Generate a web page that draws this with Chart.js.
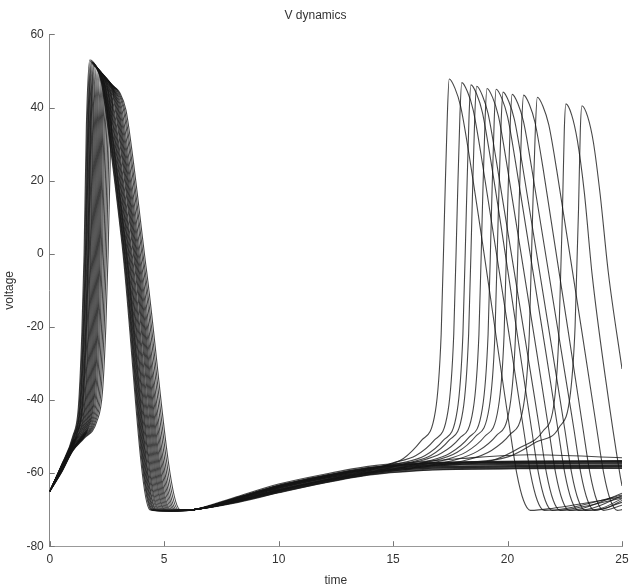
<!DOCTYPE html>
<html>
<head>
<meta charset="utf-8">
<script src="https://cdn.jsdelivr.net/npm/chart.js@4.4.0/dist/chart.umd.min.js"></script>
<style>
  html, body { margin: 0; padding: 0; background: #fff; overflow: hidden; }
  #wrap { width: 629px; height: 588px; position: relative; }
  #vplot { display: block; }
</style>
</head>
<body>
<div id="wrap"><canvas id="vplot"></canvas></div>
<script>
// tick labels
const xTicks = [0, 5, 10, 15, 20, 25];
const yTicks = [-80, -60, -40, -20, 0, 20, 40, 60];

// runs that fire only the first spike, [time, voltage]
const quietRuns = [
  [[0,-65],[0.5,-58.0],[1.00,-50.0],[1.25,-42.0],[1.40,-22.0],[1.50,0],[1.60,35.0],[1.75,53.0],[2.00,51.5],[2.25,47.0],[2.55,34.0],[3.15,3.0],[4.37,-70],[4.67,-70.3],[6.3,-70],[8,-67.1],[10,-63.5],[12,-60.8],[14,-58.6],[16,-57.5],[18,-57.1],[21,-56.9],[25,-56.8]],
  [[0,-65],[0.5,-58.1],[1.06,-49.8],[1.31,-41.8],[1.46,-22.0],[1.56,0],[1.66,34.4],[1.81,52.4],[2.06,50.9],[2.31,46.4],[2.61,33.4],[3.21,2.4],[4.45,-70],[4.75,-70.3],[6.3,-70],[8,-68.0],[10,-64.9],[12,-62.2],[14,-60.0],[16,-58.9],[18,-58.5],[21,-58.3],[25,-58.2]],
  [[0,-65],[0.5,-58.2],[1.08,-49.7],[1.33,-41.7],[1.48,-21.9],[1.58,0],[1.68,34.2],[1.83,52.2],[2.08,50.7],[2.33,46.2],[2.63,33.2],[3.23,2.2],[4.48,-70],[4.78,-70.3],[6.3,-70],[8,-67.4],[10,-64.0],[12,-61.3],[14,-59.1],[16,-58.0],[18,-57.6],[21,-57.4],[25,-57.3]],
  [[0,-65],[0.5,-58.3],[1.13,-49.5],[1.38,-41.5],[1.53,-21.8],[1.63,0],[1.73,33.8],[1.88,51.8],[2.13,50.3],[2.38,45.8],[2.68,32.8],[3.28,1.8],[4.55,-70],[4.85,-70.3],[6.3,-70],[8,-68.2],[10,-65.3],[12,-62.6],[14,-60.4],[16,-59.3],[18,-58.9],[21,-58.7],[25,-58.6]],
  [[0,-65],[0.5,-58.4],[1.18,-49.3],[1.43,-41.3],[1.58,-21.7],[1.68,0],[1.78,33.4],[1.93,51.4],[2.18,49.9],[2.43,45.4],[2.73,32.4],[3.33,1.4],[4.62,-70],[4.92,-70.3],[6.3,-70],[8,-67.2],[10,-63.7],[12,-61.0],[14,-58.8],[16,-57.7],[18,-57.3],[21,-57.1],[25,-57.0]],
  [[0,-65],[0.5,-58.5],[1.23,-49.1],[1.48,-41.1],[1.63,-21.7],[1.73,0],[1.83,33.0],[1.98,51.0],[2.23,49.5],[2.48,45.0],[2.78,32.0],[3.38,1.0],[4.70,-70],[5.00,-70.3],[6.3,-70],[8,-67.8],[10,-64.6],[12,-61.9],[14,-59.7],[16,-58.6],[18,-58.2],[21,-58.0],[25,-57.9]],
  [[0,-65],[0.5,-58.5],[1.0,-51.4],[1.27,-49.0],[1.52,-41.0],[1.67,-21.6],[1.77,0],[1.87,32.8],[2.02,50.8],[2.27,49.3],[2.52,44.8],[2.82,31.8],[3.42,0.8],[4.74,-70],[5.04,-70.3],[6.3,-70],[8,-67.0],[10,-63.3],[12,-60.6],[14,-58.4],[16,-57.3],[18,-56.9],[21,-56.7],[25,-56.6]],
  [[0,-65],[0.5,-58.6],[1.0,-51.8],[1.34,-48.7],[1.59,-40.7],[1.74,-21.5],[1.84,0],[1.94,32.2],[2.09,50.2],[2.34,48.7],[2.59,44.2],[2.89,31.2],[3.49,0.2],[4.83,-70],[5.13,-70.3],[6.3,-70],[8,-68.1],[10,-65.1],[12,-62.4],[14,-60.2],[16,-59.1],[18,-58.7],[21,-58.5],[25,-58.4]],
  [[0,-65],[0.5,-58.8],[1.0,-52.2],[1.42,-48.4],[1.67,-40.4],[1.82,-21.4],[1.92,0],[2.02,31.6],[2.17,49.6],[2.42,48.1],[2.67,43.6],[2.97,30.6],[3.57,-0.4],[4.93,-70],[5.23,-70.3],[6.3,-70],[8,-67.5],[10,-64.2],[12,-61.5],[14,-59.3],[16,-58.2],[18,-57.8],[21,-57.6],[25,-57.5]],
  [[0,-65],[0.5,-58.8],[1.0,-52.4],[1.46,-48.3],[1.71,-40.3],[1.86,-21.4],[1.96,0],[2.06,31.4],[2.21,49.4],[2.46,47.9],[2.71,43.4],[3.01,30.4],[3.61,-0.6],[4.98,-70],[5.28,-70.3],[6.3,-70],[8,-67.1],[10,-63.4],[12,-60.7],[14,-58.5],[16,-57.4],[18,-57.0],[21,-56.8],[25,-56.7]],
  [[0,-65],[0.5,-59.0],[1.0,-52.7],[1.54,-47.9],[1.79,-39.9],[1.94,-21.2],[2.04,0],[2.14,30.7],[2.31,48.7],[2.56,47.2],[2.81,42.7],[3.11,29.7],[3.71,-1.3],[5.07,-70],[5.37,-70.3],[6.3,-70],[8,-67.9],[10,-64.8],[12,-62.1],[14,-59.9],[16,-58.8],[18,-58.4],[21,-58.2],[25,-58.1]],
  [[0,-65],[0.5,-59.2],[1.0,-53.1],[1.62,-47.6],[1.87,-39.6],[2.02,-21.1],[2.12,0],[2.22,30.1],[2.39,48.1],[2.64,46.6],[2.89,42.1],[3.19,29.1],[3.79,-1.9],[5.17,-70],[5.47,-70.3],[6.3,-70],[8,-67.4],[10,-63.9],[12,-61.2],[14,-59.0],[16,-57.9],[18,-57.5],[21,-57.3],[25,-57.2]],
  [[0,-65],[0.5,-59.4],[1.0,-53.4],[1.70,-47.3],[1.95,-39.3],[2.10,-21.0],[2.20,0],[2.30,29.5],[2.47,47.5],[2.72,46.0],[2.97,41.5],[3.27,28.5],[3.87,-2.5],[5.27,-70],[5.57,-70.3],[6.3,-70],[8,-68.3],[10,-65.4],[12,-62.7],[14,-60.5],[16,-59.4],[18,-59.0],[21,-58.8],[25,-58.7]],
  [[0,-65],[0.5,-59.5],[1.0,-53.5],[1.5,-49.2],[1.75,-47.1],[2.00,-39.1],[2.15,-20.9],[2.25,0],[2.35,29.1],[2.52,47.1],[2.77,45.6],[3.02,41.1],[3.32,28.1],[3.92,-2.9],[5.33,-70],[5.63,-70.3],[6.3,-70],[8,-67.2],[10,-63.6],[12,-60.9],[14,-58.7],[16,-57.6],[18,-57.2],[21,-57.0],[25,-56.9]],
  [[0,-65],[0.5,-59.7],[1.0,-53.7],[1.5,-49.8],[1.86,-46.7],[2.11,-38.7],[2.26,-20.6],[2.36,0],[2.46,28.4],[2.63,46.4],[2.88,44.9],[3.13,40.4],[3.43,27.4],[4.03,-3.6],[5.45,-70],[5.75,-70.3],[6.3,-70],[8,-67.7],[10,-64.5],[12,-61.8],[14,-59.6],[16,-58.5],[18,-58.1],[21,-57.9],[25,-57.8]],
  [[0,-65],[0.5,-59.9],[1.0,-53.9],[1.5,-50.3],[1.98,-46.3],[2.23,-38.3],[2.38,-20.2],[2.48,0],[2.58,27.7],[2.76,45.7],[3.01,44.2],[3.26,39.7],[3.56,26.7],[4.16,-4.3],[5.60,-70],[5.90,-70.3],[6.3,-70],[8,-66.8],[10,-63.0],[12,-60.3],[14,-58.1],[16,-57.0],[18,-56.0],[21,-55.0],[25,-55.8]]
];

// runs that fire a second spike late in the window
const spikingRuns = [
  [[0,-65],[0.5,-58.1],[1.03,-49.9],[1.28,-41.9],[1.43,-22.0],[1.53,0],[1.63,34.6],[1.78,52.6],[2.03,51.1],[2.28,46.6],[2.58,33.6],[3.18,2.6],[4.42,-70],[4.72,-70.3],[6.3,-70],[8,-67.3],[10,-63.8],[12,-61.1],[14,-58.9],
   [14.45,-58.3],[15.45,-56.0],[16.25,-51.0],[16.85,-43],[17.1,-22],[17.25,12],[17.37,38],[17.45,47.8],[17.7,45.3],[17.95,40.3],[18.3,27.8],[20.1,-48],[20.4,-60],[20.7,-67.5],[21.0,-70.2],[22.0,-69.6],[25,-66.5]],
  [[0,-65],[0.5,-58.3],[1.16,-49.4],[1.41,-41.4],[1.56,-21.8],[1.66,0],[1.76,33.5],[1.91,51.5],[2.16,50.0],[2.41,45.5],[2.71,32.5],[3.31,1.5],[4.58,-70],[4.88,-70.3],[6.3,-70],[8,-67.5],[10,-64.1],[12,-61.4],[14,-59.2],
   [15.0,-57.2],[16.0,-55.2],[16.8,-51],[17.4,-43],[17.65,-22],[17.8,12],[17.92,38],[18.0,46.8],[18.25,44.3],[18.5,39.3],[18.85,26.8],[20.7,-48],[21.0,-60],[21.3,-67.5],[21.6,-70.2],[22.6,-69.6],[25,-66.0]],
  [[0,-65],[0.5,-58.6],[1.0,-51.6],[1.30,-48.9],[1.55,-40.9],[1.70,-21.6],[1.80,0],[1.90,32.6],[2.05,50.6],[2.30,49.1],[2.55,44.6],[2.85,31.6],[3.45,0.6],[4.78,-70],[5.08,-70.3],[6.3,-70],[8,-67.1],[10,-63.5],[12,-60.8],[14,-58.6],
   [15.4,-57.2],[16.4,-55.2],[17.2,-51],[17.8,-43],[18.05,-22],[18.2,12],[18.32,38],[18.4,46.2],[18.65,43.7],[18.9,38.7],[19.25,26.2],[21.05,-48],[21.35,-60],[21.65,-67.5],[21.95,-70.2],[22.95,-69.6],[25,-66.8]],
  [[0,-65],[0.5,-58.2],[1.10,-49.6],[1.35,-41.6],[1.50,-21.9],[1.60,0],[1.70,34.0],[1.85,52.0],[2.10,50.5],[2.35,46.0],[2.65,33.0],[3.25,2.0],[4.52,-70],[4.82,-70.3],[6.3,-70],[8,-67.8],[10,-64.7],[12,-62.0],[14,-59.8],
   [15.65,-57.2],[16.65,-55.2],[17.45,-51],[18.05,-43],[18.3,-22],[18.45,12],[18.57,38],[18.65,45.8],[18.9,43.3],[19.15,38.3],[19.5,25.8],[21.4,-48],[21.7,-60],[22.0,-67.5],[22.3,-70.2],[23.3,-69.6],[25,-65.5]],
  [[0,-65],[0.5,-58.9],[1.0,-52.5],[1.50,-48.1],[1.75,-40.1],[1.90,-21.3],[2.00,0],[2.10,31.0],[2.27,49.0],[2.52,47.5],[2.77,43.0],[3.07,30.0],[3.67,-1.0],[5.02,-70],[5.32,-70.3],[6.3,-70],[8,-67.4],[10,-63.9],[12,-61.2],[14,-59.0],
   [16.1,-56.8],[17.1,-54.6],[17.9,-50.5],[18.5,-42.5],[18.75,-22],[18.9,12],[19.02,37],[19.1,45.2],[19.35,42.7],[19.6,37.7],[19.95,25.2],[21.8,-48],[22.1,-60],[22.4,-67.5],[22.7,-70.2],[23.7,-69.6],[25,-66.2]],
  [[0,-65],[0.5,-58.4],[1.20,-49.2],[1.45,-41.2],[1.60,-21.7],[1.70,0],[1.80,33.2],[1.95,51.2],[2.20,49.7],[2.45,45.2],[2.75,32.2],[3.35,1.2],[4.65,-70],[4.95,-70.3],[6.3,-70],[8,-68.0],[10,-65.0],[12,-62.3],[14,-60.1],
   [16.5,-56.8],[17.5,-54.5],[18.3,-50.3],[18.9,-42.3],[19.15,-22],[19.3,12],[19.42,37],[19.5,45.0],[19.75,42.5],[20.0,37.5],[20.35,25.0],[22.2,-48],[22.5,-60],[22.8,-67.5],[23.1,-70.2],[24.1,-69.6],[25,-67.0]],
  [[0,-65],[0.5,-59.3],[1.0,-53.3],[1.66,-47.5],[1.91,-39.5],[2.06,-21.1],[2.16,0],[2.26,29.8],[2.43,47.8],[2.68,46.3],[2.93,41.8],[3.23,28.8],[3.83,-2.2],[5.22,-70],[5.52,-70.3],[6.3,-70],[8,-67.2],[10,-63.7],[12,-61.0],[14,-58.8],
   [16.8,-56.6],[17.8,-54.3],[18.6,-50],[19.2,-42],[19.45,-22],[19.6,12],[19.72,36],[19.8,44.2],[20.05,41.7],[20.3,36.7],[20.65,24.2],[22.5,-48],[22.8,-60],[23.1,-67.5],[23.4,-70.2],[24.3,-69.6],[25,-67.5]],
  [[0,-65],[0.5,-58.7],[1.0,-52.0],[1.38,-48.6],[1.63,-40.6],[1.78,-21.5],[1.88,0],[1.98,32.0],[2.13,50.0],[2.38,48.5],[2.63,44.0],[2.93,31.0],[3.53,0],[4.88,-70],[5.18,-70.3],[6.3,-70],[8,-67.7],[10,-64.4],[12,-61.7],[14,-59.5],
   [16,-58.0],[17.2,-56.5],[18.2,-54.2],[19.0,-50],[19.6,-42],[19.85,-22],[20.0,12],[20.12,36],[20.2,43.6],[20.45,41.1],[20.7,36.1],[21.05,23.6],[22.9,-48],[23.2,-60],[23.5,-67.5],[23.8,-70.2],[25,-68.0]],
  [[0,-65],[0.5,-59.6],[1.0,-53.6],[1.5,-49.5],[1.80,-47.0],[2.05,-39.0],[2.20,-20.8],[2.30,0],[2.40,28.8],[2.57,46.8],[2.82,45.3],[3.07,40.8],[3.37,27.8],[3.97,-3.2],[5.39,-70],[5.69,-70.3],[6.3,-70],[8,-67.9],[10,-64.8],[12,-62.1],[14,-59.9],
   [16,-58.4],[17.7,-56.4],[18.7,-54],[19.5,-49.8],[20.1,-41.8],[20.35,-22],[20.5,12],[20.62,36],[20.7,43.4],[20.95,40.9],[21.2,35.9],[21.55,23.4],[23.3,-48],[23.6,-60],[23.9,-67.5],[24.2,-70.2],[25,-68.8]],
  [[0,-65],[0.5,-59.1],[1.0,-52.9],[1.58,-47.8],[1.83,-39.8],[1.98,-21.2],[2.08,0],[2.18,30.4],[2.35,48.4],[2.60,46.9],[2.85,42.4],[3.15,29.4],[3.75,-1.6],[5.12,-70],[5.42,-70.3],[6.3,-70],[8,-68.1],[10,-65.2],[12,-62.5],[14,-60.3],
   [16,-58.6],[18.3,-56.3],[19.3,-53.8],[20.1,-49.5],[20.7,-41.5],[20.95,-22],[21.1,12],[21.22,35],[21.3,42.8],[21.55,40.3],[21.8,35.3],[22.15,22.8],[23.9,-48],[24.2,-60],[24.5,-67.5],[24.8,-70.2],[25,-70.0]],
  [[0,-65],[0.5,-60.0],[1.0,-54.0],[1.5,-50.5],[2.05,-46.0],[2.30,-38.0],[2.45,-20.0],[2.55,0],[2.65,27.3],[2.83,45.3],[3.08,43.8],[3.33,39.3],[3.63,26.3],[4.23,-4.7],[5.68,-70],[5.98,-70.3],[6.3,-70],[8,-67.8],[10,-64.6],[12,-61.9],[14,-59.7],
   [16,-58.4],[18,-57.6],[19.35,-56.5],[20.55,-53],[21.55,-48.5],[22.05,-40],[22.25,-21],[22.4,12],[22.48,34],[22.55,41.0],[22.8,38],[23.05,31],[23.35,17],[23.7,-6],[24.3,-35],[24.9,-60],[25,-63.5]],
  [[0,-65],[0.5,-59.8],[1.0,-53.8],[1.5,-50.0],[1.92,-46.5],[2.17,-38.5],[2.32,-20.4],[2.42,0],[2.52,28.0],[2.70,46.0],[2.95,44.5],[3.20,40.0],[3.50,27.0],[4.10,-4.0],[5.52,-70],[5.82,-70.3],[6.3,-70],[8,-67.5],[10,-64.2],[12,-61.5],[14,-59.3],
   [16,-58.2],[18,-57.2],[20.05,-55.5],[21.25,-51.5],[22.25,-47.5],[22.75,-38],[22.95,-20],[23.1,12],[23.18,34],[23.25,40.5],[23.5,37.5],[23.75,30.5],[24.05,16],[24.4,-5],[25,-31.5]]
];

const allRuns = quietRuns.concat(spikingRuns);

const datasets = allRuns.map(run => ({
  data: run.map(p => ({ x: p[0], y: p[1] })),
  showLine: true,
  borderColor: 'rgba(20,20,20,0.78)',
  borderWidth: 1.1,
  pointRadius: 0,
  cubicInterpolationMode: 'monotone',
  fill: false
}));

const axisFont = { family: 'Liberation Sans', size: 12 };

// matlab style: tick marks point into the plot
const inwardTicks = {
  id: 'inwardTicks',
  afterDraw(chart) {
    const ctx = chart.ctx;
    const xs = chart.scales.x, ys = chart.scales.y;
    const area = chart.chartArea;
    ctx.save();
    ctx.strokeStyle = '#777';
    ctx.lineWidth = 1;
    ctx.beginPath();
    xTicks.forEach(v => {
      const px = Math.round(xs.getPixelForValue(v)) + 0.5;
      ctx.moveTo(px, area.bottom);
      ctx.lineTo(px, area.bottom - 5);
    });
    yTicks.forEach(v => {
      const py = Math.round(ys.getPixelForValue(v)) + 0.5;
      ctx.moveTo(area.left, py);
      ctx.lineTo(area.left + 5, py);
    });
    ctx.stroke();
    ctx.restore();
  }
};

new Chart(document.getElementById('vplot').getContext('2d'), {
  type: 'scatter',
  data: { datasets: datasets },
  options: {
    responsive: true,
    maintainAspectRatio: false,
    animation: false,
    layout: { padding: { left: 2, right: 0, top: 0, bottom: 0 } },
    plugins: {
      legend: { display: false },
      tooltip: { enabled: false },
      title: {
        display: true,
        text: 'V dynamics',
        color: '#333',
        font: { family: 'Liberation Sans', size: 12, weight: 'normal' },
        padding: { top: 8, bottom: 12 }
      }
    },
    scales: {
      x: {
        type: 'linear',
        min: 0,
        max: 25,
        afterBuildTicks: axis => { axis.ticks = xTicks.map(v => ({ value: v })); },
        afterFit: axis => { axis.paddingRight = 7; axis.paddingLeft = 0; },
        ticks: { color: '#333', font: axisFont, padding: 6 },
        grid: { display: false, drawTicks: false },
        border: { display: true, color: '#999', dash: [2, 2] },
        title: { display: true, text: 'time', color: '#333', font: axisFont, padding: { top: 1, bottom: 0 } }
      },
      y: {
        min: -80,
        max: 60,
        afterBuildTicks: axis => { axis.ticks = yTicks.map(v => ({ value: v })); },
        ticks: { color: '#333', font: axisFont, padding: 6 },
        grid: { display: false, drawTicks: false },
        border: { display: true, color: '#888' },
        title: { display: true, text: 'voltage', color: '#333', font: axisFont, padding: { top: 0, bottom: 4 } }
      }
    }
  },
  plugins: [inwardTicks]
});
</script>
</body>
</html>
